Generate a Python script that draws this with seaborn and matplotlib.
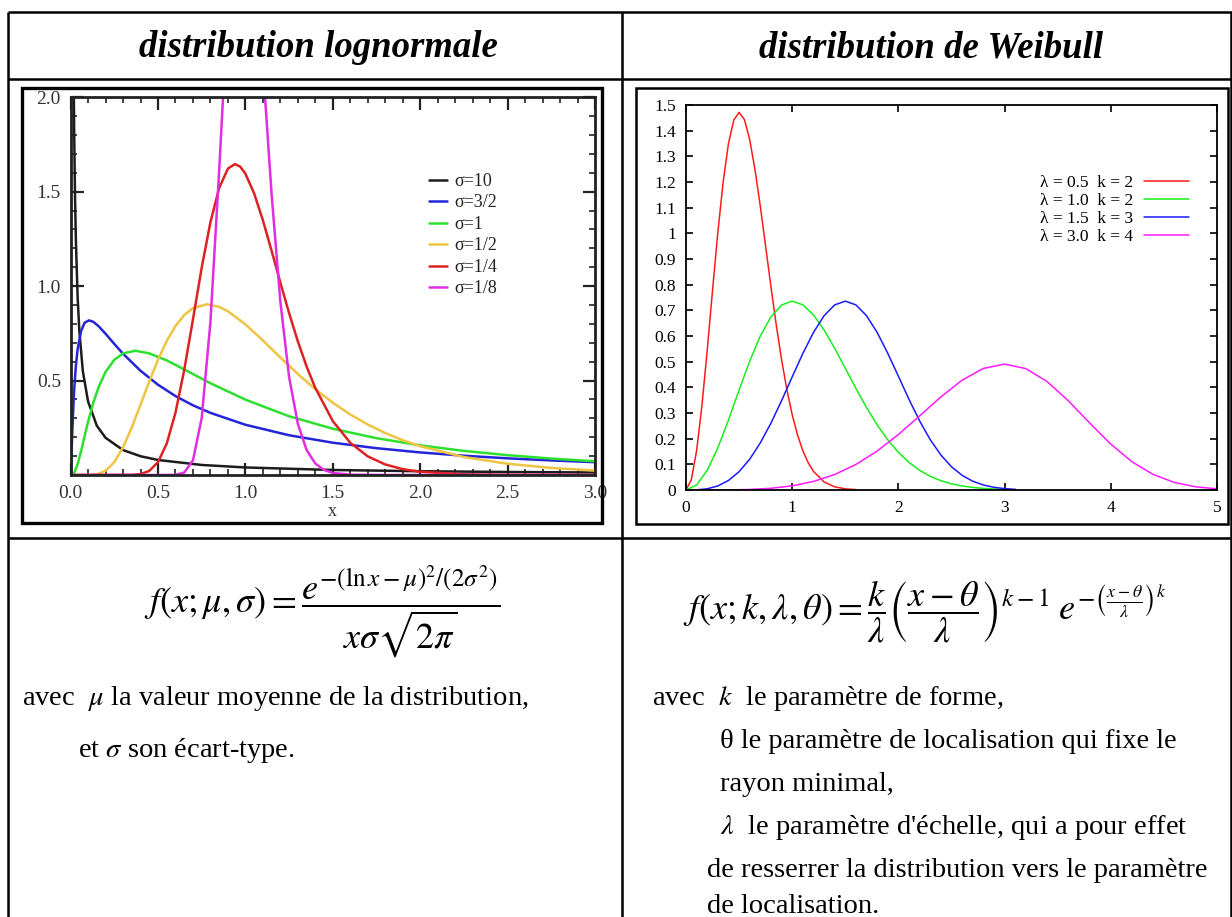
import matplotlib
matplotlib.use("Agg")
import matplotlib.pyplot as plt
import seaborn as sns
from matplotlib.lines import Line2D
from matplotlib.patches import Rectangle
from matplotlib.ticker import MultipleLocator, FuncFormatter

# ---------------- data ----------------
# Lognormal panel (mu = 0)
LOGN_LABELS = ["σ=10", "σ=3/2", "σ=1", "σ=1/2", "σ=1/4", "σ=1/8"]
LOGN_COLORS = ["#1c1c1c", "#2424d8", "#2ee02e", "#efc442", "#dc2222", "#e02ee0"]

x_s10 = [0.005, 0.01, 0.015, 0.02, 0.025, 0.03, 0.04, 0.05, 0.07, 0.1, 0.15, 0.2,
         0.3, 0.4, 0.5, 0.75, 1.0, 1.5, 2.0, 2.5, 3.0]
y_s10 = [6.94, 3.59, 2.44, 1.85, 1.49, 1.25, 0.947, 0.763, 0.550, 0.389, 0.261, 0.197,
         0.132, 0.0994, 0.0796, 0.0532, 0.0399, 0.0266, 0.0200, 0.0160, 0.0133]

x_s32 = [0.0, 0.002, 0.005, 0.01, 0.02, 0.03, 0.04, 0.06, 0.08, 0.105, 0.13, 0.16, 0.2,
         0.25, 0.3, 0.4, 0.5, 0.6, 0.7, 0.8, 1.0, 1.25, 1.5, 1.75, 2.0, 2.25, 2.5,
         2.75, 3.0]
y_s32 = [0.0, 0.025, 0.104, 0.239, 0.444, 0.576, 0.665, 0.763, 0.806, 0.819, 0.811,
         0.788, 0.748, 0.694, 0.642, 0.552, 0.478, 0.418, 0.369, 0.329, 0.266, 0.2105,
         0.171, 0.142, 0.1195, 0.1021, 0.0883, 0.0771, 0.0678]

x_s1 = [0.0, 0.02, 0.04, 0.06, 0.08, 0.1, 0.13, 0.16, 0.2, 0.25, 0.3, 0.37, 0.45, 0.55,
        0.65, 0.8, 1.0, 1.25, 1.5, 1.75, 2.0, 2.25, 2.5, 2.75, 3.0]
y_s1 = [0.0, 0.0095, 0.0561, 0.127, 0.205, 0.2816, 0.383, 0.465, 0.546, 0.610, 0.644,
        0.658, 0.644, 0.607, 0.559, 0.486, 0.399, 0.311, 0.245, 0.195, 0.157, 0.1276,
        0.105, 0.087, 0.0727]

x_s12 = [0.0, 0.1, 0.15, 0.2, 0.25, 0.3, 0.35, 0.4, 0.45, 0.5, 0.55, 0.6, 0.65, 0.7,
         0.78, 0.85, 0.9, 1.0, 1.1, 1.2, 1.3, 1.4, 1.5, 1.6, 1.7, 1.8, 1.9, 2.0, 2.25,
         2.5, 2.75, 3.0]
y_s12 = [0.0, 0.0002, 0.004, 0.0225, 0.0683, 0.1466, 0.2517, 0.372, 0.4954, 0.6104,
         0.7098, 0.7893, 0.847, 0.8838, 0.9041, 0.8905, 0.867, 0.7979, 0.7123, 0.6222,
         0.5348, 0.4545, 0.3829, 0.3206, 0.2673, 0.2221, 0.1842, 0.1526, 0.0952,
         0.0595, 0.0375, 0.0238]

x_s14 = [0.0, 0.35, 0.4, 0.45, 0.5, 0.55, 0.6, 0.65, 0.7, 0.75, 0.8, 0.85, 0.9, 0.94,
         0.97, 1.0, 1.05, 1.1, 1.15, 1.2, 1.25, 1.3, 1.35, 1.4, 1.5, 1.6, 1.7, 1.8, 1.9,
         2.0, 2.25, 2.5, 3.0]
y_s14 = [0.0, 0.0007, 0.0048, 0.0216, 0.0683, 0.1663, 0.3298, 0.556, 0.8239, 1.0975,
         1.339, 1.52, 1.6224, 1.6464, 1.633, 1.5958, 1.491, 1.349, 1.187, 1.019, 0.857,
         0.7077, 0.575, 0.4608, 0.2855, 0.1704, 0.0987, 0.0559, 0.0311, 0.0171,
         0.0037, 0.0008, 0.0]

x_s18 = [0.0, 0.55, 0.6, 0.65, 0.7, 0.75, 0.8, 0.85, 0.9, 0.95, 1.0, 1.05, 1.1, 1.15,
         1.2, 1.25, 1.3, 1.35, 1.4, 1.45, 1.5, 1.6, 1.8, 3.0]
y_s18 = [0.0, 0.0001, 0.0013, 0.0129, 0.0778, 0.3013, 0.8107, 1.613, 2.486, 3.088,
         3.19, 2.817, 2.170, 1.485, 0.918, 0.519, 0.2713, 0.1324, 0.0609, 0.0265,
         0.011, 0.0017, 0.0, 0.0]

# Weibull panel
WEIB_LABELS = ["λ = 0.5  k = 2", "λ = 1.0  k = 2", "λ = 1.5  k = 3", "λ = 3.0  k = 4"]
WEIB_COLORS = ["#ff1a1a", "#1aee1a", "#1a1aff", "#ff1aff"]

x_w1 = [0.0, 0.05, 0.1, 0.15, 0.2, 0.25, 0.3, 0.35, 0.4, 0.45, 0.5, 0.55, 0.6, 0.65,
        0.7, 0.75, 0.8, 0.85, 0.9, 0.95, 1.0, 1.05, 1.1, 1.15, 1.2, 1.3, 1.4, 1.5, 1.6]
y_w1 = [0.0, 0.0396, 0.1537, 0.329, 0.5453, 0.7788, 1.0047, 1.2007, 1.3499, 1.4415,
        1.4715, 1.4433, 1.3646, 1.2472, 1.1046, 0.9486, 0.7915, 0.6427, 0.5075, 0.3906,
        0.2931, 0.2145, 0.1532, 0.1067, 0.0726, 0.0313, 0.0124, 0.0044, 0.0015]

x_w2 = [0.0, 0.1, 0.2, 0.3, 0.4, 0.5, 0.6, 0.7, 0.8, 0.9, 1.0, 1.1, 1.2, 1.3, 1.4, 1.5,
        1.6, 1.7, 1.8, 1.9, 2.0, 2.1, 2.2, 2.3, 2.4, 2.5, 2.6, 2.7, 2.8, 2.9, 3.0]
y_w2 = [0.0, 0.0198, 0.0769, 0.1645, 0.2727, 0.3894, 0.5023, 0.6003, 0.6749, 0.7207,
        0.7358, 0.7216, 0.6823, 0.6236, 0.5523, 0.4743, 0.3958, 0.3214, 0.2538, 0.1953,
        0.1465, 0.1072, 0.0766, 0.0533, 0.0363, 0.0241, 0.0157, 0.0100, 0.0062, 0.0038,
        0.0022]

x_w3 = [0.0, 0.1, 0.2, 0.3, 0.4, 0.5, 0.6, 0.7, 0.8, 0.9, 1.0, 1.1, 1.2, 1.3, 1.4, 1.5,
        1.6, 1.7, 1.8, 1.9, 2.0, 2.1, 2.2, 2.3, 2.4, 2.5, 2.6, 2.7, 2.8, 2.9, 3.0, 3.1]
y_w3 = [0.0, 0.0006, 0.0047, 0.0159, 0.0372, 0.0714, 0.1201, 0.1837, 0.2607, 0.3481,
        0.4407, 0.5317, 0.6137, 0.6790, 0.7212, 0.7358, 0.7212, 0.6790, 0.6138, 0.5325,
        0.4433, 0.3529, 0.2691, 0.1960, 0.1363, 0.0904, 0.0571, 0.0342, 0.0195, 0.0105,
        0.0054, 0.0026]

x_w4 = [0.0, 0.4, 0.6, 0.8, 1.0, 1.2, 1.4, 1.6, 1.8, 2.0, 2.2, 2.4, 2.6, 2.8, 3.0, 3.2,
        3.4, 3.6, 3.8, 4.0, 4.2, 4.4, 4.6, 4.8, 5.0]
y_w4 = [0.0, 0.0004, 0.0021, 0.0067, 0.0163, 0.0333, 0.0603, 0.0995, 0.1518, 0.2162,
        0.2888, 0.3626, 0.4279, 0.4737, 0.4905, 0.4730, 0.4225, 0.3475, 0.2616, 0.1787,
        0.1099, 0.0603, 0.0293, 0.0124, 0.0046]

LOGN_X = [x_s10, x_s32, x_s1, x_s12, x_s14, x_s18]
LOGN_Y = [y_s10, y_s32, y_s1, y_s12, y_s14, y_s18]
WEIB_X = [x_w1, x_w2, x_w3, x_w4]
WEIB_Y = [y_w1, y_w2, y_w3, y_w4]

LOGN_XTICKS = [0.0, 0.5, 1.0, 1.5, 2.0, 2.5, 3.0]
LOGN_YTICKS = [0.5, 1.0, 1.5, 2.0]
WEIB_XTICKS = [0, 1, 2, 3, 4, 5]

TITLE_LEFT = "distribution lognormale"
TITLE_RIGHT = "distribution de Weibull"

# ---------------- style ----------------
sns.set_theme(style="white")
plt.rcParams["font.family"] = ["Liberation Serif", "DejaVu Serif"]
plt.rcParams["mathtext.fontset"] = "stix"
plt.rcParams["text.color"] = "black"

W, H = 1232, 917
fig = plt.figure(figsize=(W / 100, H / 100), dpi=100)
fig.patch.set_facecolor("white")


def fx(px):
    return px / W


def fy(py):
    return 1 - py / H


def seg(x0, y0, x1, y1, lw=1.8):
    fig.add_artist(Line2D([fx(x0), fx(x1)], [fy(y0), fy(y1)], color="black", lw=lw,
                          transform=fig.transFigure, solid_capstyle="butt"))


# table grid
seg(8, 12, 1232, 12)
seg(8, 79, 1232, 79)
seg(8, 538, 1232, 538)
seg(8, 12, 8, 917)
seg(622, 12, 622, 917)
seg(1231, 12, 1231, 917)

# picture frames
fig.add_artist(Rectangle((fx(22), fy(523)), fx(602) - fx(22), fy(88) - fy(523), fill=False,
                         lw=2.4, edgecolor="black", transform=fig.transFigure))
fig.add_artist(Rectangle((fx(636), fy(524)), fx(1228) - fx(636), fy(88) - fy(524), fill=False,
                         lw=1.8, edgecolor="black", transform=fig.transFigure))

# headers
for cx, t in [(318, TITLE_LEFT), (931, TITLE_RIGHT)]:
    fig.text(fx(cx), fy(57), t, ha="center", va="baseline", fontsize=26.5,
             fontweight="bold", fontstyle="italic", color="black")

# ---------------- lognormal axes ----------------
ax1 = fig.add_axes([fx(70.6), fy(475), fx(595) - fx(70.6), fy(97.3) - fy(475)])
for xs, ys, lab, col in zip(LOGN_X, LOGN_Y, LOGN_LABELS, LOGN_COLORS):
    sns.lineplot(x=xs, y=ys, ax=ax1, color=col, lw=1.8, label=lab, estimator=None, sort=False)
ax1.set_xlim(0, 3)
ax1.set_ylim(0, 2)
ax1.set_xticks(LOGN_XTICKS)
ax1.set_yticks(LOGN_YTICKS)
ax1.xaxis.set_minor_locator(MultipleLocator(0.1))
ax1.yaxis.set_minor_locator(MultipleLocator(0.1))
ax1.xaxis.set_major_formatter(FuncFormatter(lambda v, p: f"{v:.1f}"))
ax1.yaxis.set_major_formatter(FuncFormatter(lambda v, p: f"{v:.1f}"))
ax1.tick_params(which="both", direction="in", top=True, right=True, bottom=True, left=True,
                colors="#222222")
ax1.tick_params(which="major", length=9, width=1.6, labelsize=14, labelcolor="#333333", pad=7)
ax1.tick_params(which="minor", length=4, width=1.2)
for s in ax1.spines.values():
    s.set_linewidth(2.0)
    s.set_color("#222222")
ax1.set_xlabel("x", fontsize=13, labelpad=1, color="#333333")
ax1.set_ylabel("")
ax1.legend(loc="upper left", bbox_to_anchor=(0.683, 0.80), frameon=False, fontsize=13,
           handlelength=1.0, handletextpad=0.4, labelspacing=0.25, borderpad=0,
           borderaxespad=0, labelcolor="#222222")

# ---------------- Weibull axes ----------------
ax2 = fig.add_axes([fx(686), fy(490), fx(1217) - fx(686), fy(105) - fy(490)])
for xs, ys, lab, col in zip(WEIB_X, WEIB_Y, WEIB_LABELS, WEIB_COLORS):
    sns.lineplot(x=xs, y=ys, ax=ax2, color=col, lw=1.1, label=lab, estimator=None, sort=False)
ax2.set_xlim(0, 5)
ax2.set_ylim(0, 1.5)
ax2.set_xticks(WEIB_XTICKS)
ax2.yaxis.set_major_locator(MultipleLocator(0.1))
ax2.yaxis.set_major_formatter(FuncFormatter(lambda v, p: f"{round(v, 2):g}"))
ax2.tick_params(which="both", direction="in", top=True, right=True, bottom=True, left=True,
                colors="black")
ax2.tick_params(which="major", length=5, width=1.2, labelsize=12.5, labelcolor="black", pad=7)
for s in ax2.spines.values():
    s.set_linewidth(1.3)
    s.set_color("black")
ax2.set_xlabel("")
ax2.set_ylabel("")
ax2.legend(loc="upper right", bbox_to_anchor=(0.947, 0.818), frameon=False, fontsize=12.5,
           markerfirst=False, handlelength=2.6, handletextpad=0.6, labelspacing=0.1,
           borderpad=0, borderaxespad=0, labelcolor="black")

# ---------------- formulas ----------------
f1 = r"$f\left(x;\mu,\sigma\right)=\dfrac{e^{-(\ln x-\mu)^{2}/\left(2\sigma^{2}\right)}}{x\sigma\sqrt{2\pi}}$"
f2 = (r"$f\left(x;k,\lambda,\theta\right)=\dfrac{k}{\lambda}\left(\dfrac{x-\theta}{\lambda}\right)^{k-1}"
      r"\;e^{-\left(\frac{x-\theta}{\lambda}\right)^{k}}$")
fig.text(fx(322), fy(612), f1, ha="center", va="center", fontsize=26, color="black")
fig.text(fx(925), fy(612), f2, ha="center", va="center", fontsize=26, color="black")

# ---------------- body text ----------------
BODY = 20.5
fig.text(fx(22), fy(705), r"avec  $\mu$ la valeur moyenne de la distribution,", fontsize=BODY, va="baseline")
fig.text(fx(78), fy(757), r"et $\sigma$ son écart-type.", fontsize=BODY, va="baseline")
fig.text(fx(652), fy(705), r"avec  $k$  le paramètre de forme,", fontsize=BODY, va="baseline")
fig.text(fx(720), fy(748), "θ le paramètre de localisation qui fixe le", fontsize=BODY, va="baseline")
fig.text(fx(720), fy(791), "rayon minimal,", fontsize=BODY, va="baseline")
fig.text(fx(720), fy(834), r"$\lambda$  le paramètre d'échelle, qui a pour effet", fontsize=BODY, va="baseline")
fig.text(fx(707), fy(877), "de resserrer la distribution vers le paramètre", fontsize=BODY, va="baseline")
fig.text(fx(707), fy(913), "de localisation.", fontsize=BODY, va="baseline")

fig.savefig("out.png", dpi=100, facecolor="white")
